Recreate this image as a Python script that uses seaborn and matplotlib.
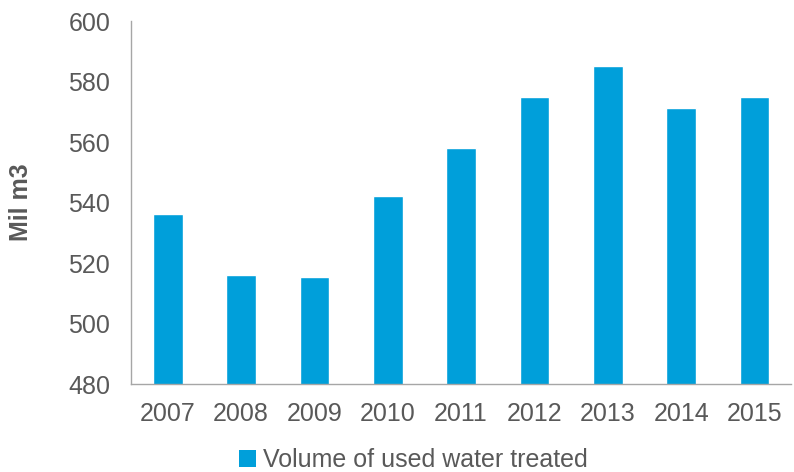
import matplotlib
matplotlib.use("Agg")
import matplotlib.pyplot as plt
from matplotlib.patches import Patch
import numpy as np
import pandas as pd
import seaborn as sns

# data
years = ["2007", "2008", "2009", "2010", "2011", "2012", "2013", "2014", "2015"]
volume = [536.1, 516.0, 515.4, 542.0, 558.0, 575.0, 585.2, 571.1, 574.8]
y_ticks = [480, 500, 520, 540, 560, 580, 600]

bar_color = "#009FDA"
text_color = "#595959"
axis_color = "#A6A6A6"
fs = 18

sns.set_style("white")
plt.rcParams["font.family"] = ["Liberation Sans", "DejaVu Sans"]

df = pd.DataFrame({"year": years, "volume": volume})

fig = plt.figure(figsize=(7.94, 4.72), dpi=100)
ax = fig.add_axes([0.165, 0.1864, 0.8315, 0.7691])

sns.barplot(data=df, x="year", y="volume", color=bar_color, width=0.405,
            saturation=1, ax=ax)

ax.set_ylim(480, 600)
ax.set_yticks(y_ticks)
ax.set_xlim(-0.5, len(years) - 0.5)

# Excel-like ticks between categories
ax.set_xticks(np.arange(-0.5, len(years), 1.0), minor=True)
ax.tick_params(axis="x", which="major", length=0, pad=13, labelsize=fs,
               labelcolor=text_color)
ax.tick_params(axis="x", which="minor", length=5, width=1, color=axis_color,
               direction="out")
ax.tick_params(axis="y", length=5, width=1, color=axis_color, direction="out",
               pad=10, labelsize=fs, labelcolor=text_color)

for side in ["top", "right"]:
    ax.spines[side].set_visible(False)
for side in ["left", "bottom"]:
    ax.spines[side].set_color(axis_color)
    ax.spines[side].set_linewidth(1.0)

ax.set_xlabel("")
ax.set_ylabel("Mil m3", fontsize=fs, fontweight="bold", color=text_color)
ax.yaxis.set_label_coords(-0.148, 0.5)

handle = Patch(facecolor=bar_color, edgecolor="none")
fig.legend([handle], ["Volume of used water treated"], loc="center",
           bbox_to_anchor=(0.521, 0.025), frameon=False, fontsize=fs,
           labelcolor=text_color, handlelength=0.65, handleheight=0.65,
           handletextpad=0.3, borderaxespad=0)

fig.savefig("out.png", dpi=100)
